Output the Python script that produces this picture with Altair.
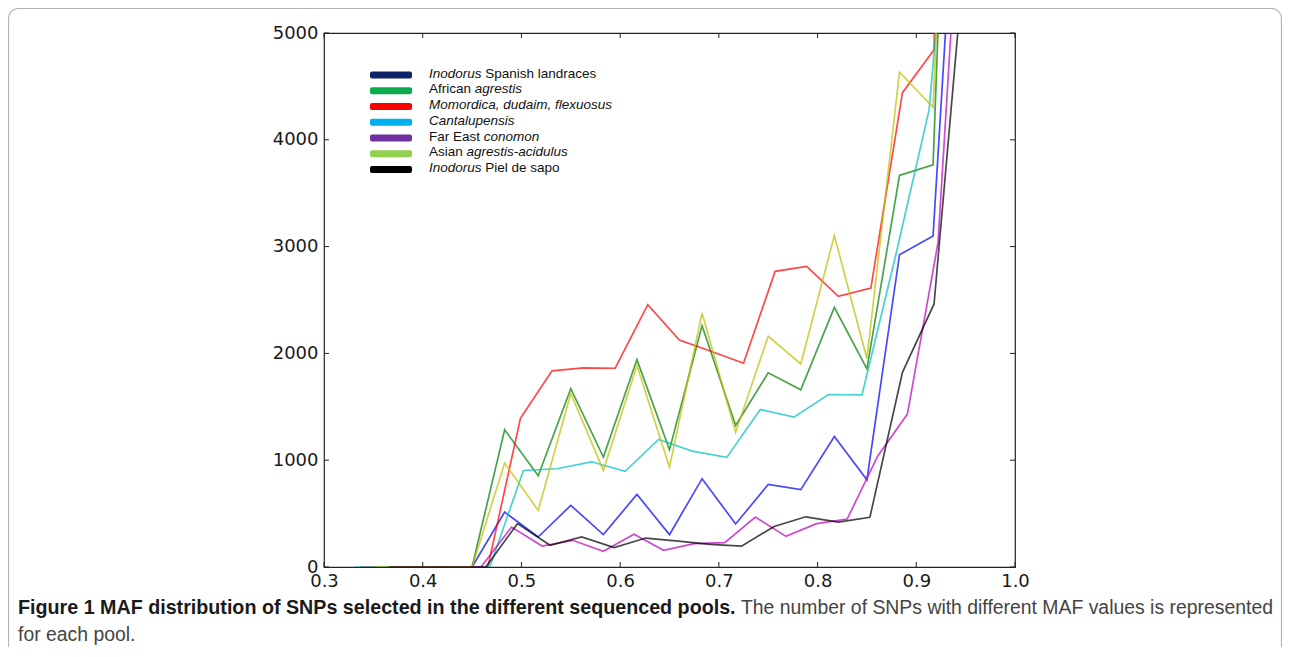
import altair as alt
import pandas as pd

# ---------------- data ----------------
X_TICKS = [0.3, 0.4, 0.5, 0.6, 0.7, 0.8, 0.9, 1.0]
Y_TICKS = [0, 1000, 2000, 3000, 4000, 5000]

# Inodorus Spanish landraces (blue)
BLUE_X = [0.350, 0.383, 0.417, 0.450, 0.483, 0.517, 0.550, 0.583, 0.617, 0.650,
          0.683, 0.717, 0.750, 0.783, 0.817, 0.850, 0.883, 0.917, 0.950]
BLUE_Y = [0, 0, 0, 0, 514, 281, 577, 303, 680, 303,
          827, 403, 773, 724, 1222, 817, 2924, 3099, 8100]

# African agrestis (green)
GREEN_X = BLUE_X
GREEN_Y = [0, 0, 0, 0, 1285, 855, 1670, 1030, 1942, 1098,
           2260, 1325, 1818, 1659, 2431, 1855, 3666, 3766, 12000]

# Momordica, dudaim, flexuosus (red)
RED_X = [0.337, 0.370, 0.402, 0.434, 0.466, 0.499, 0.531, 0.563, 0.595, 0.628,
         0.660, 0.692, 0.725, 0.757, 0.789, 0.821, 0.854, 0.886, 0.918, 0.950]
RED_Y = [0, 0, 0, 0, 0, 1393, 1837, 1865, 1861, 2456,
         2126, 2020, 1908, 2768, 2815, 2534, 2612, 4441, 4844, 25000]

# Cantalupensis (cyan)
CYAN_X = [0.331, 0.365, 0.399, 0.434, 0.468, 0.502, 0.536, 0.571, 0.605, 0.639,
          0.673, 0.708, 0.742, 0.776, 0.811, 0.845, 0.879, 0.913, 0.948]
CYAN_Y = [0, 0, 0, 0, 0, 904, 920, 985, 895, 1194,
          1085, 1026, 1475, 1403, 1615, 1612, 2912, 4280, 8000]

# Far East conomon (magenta)
MAGENTA_X = [0.367, 0.397, 0.428, 0.459, 0.490, 0.521, 0.552, 0.583, 0.614, 0.644,
             0.675, 0.706, 0.737, 0.768, 0.799, 0.830, 0.861, 0.891, 0.922, 0.953]
MAGENTA_Y = [0, 0, 0, 0, 374, 196, 250, 147, 306, 156,
             219, 228, 468, 287, 406, 449, 1040, 1432, 3036, 7700]

# Asian agrestis-acidulus (yellow)
YELLOW_X = BLUE_X
YELLOW_Y = [0, 0, 0, 0, 973, 530, 1625, 904, 1886, 935,
            2379, 1262, 2160, 1902, 3104, 1950, 4633, 4305, 11100]

# Inodorus Piel de sapo (black)
BLACK_X = [0.366, 0.399, 0.431, 0.464, 0.496, 0.529, 0.561, 0.594, 0.626, 0.659,
           0.691, 0.723, 0.756, 0.788, 0.821, 0.853, 0.886, 0.918, 0.951]
BLACK_Y = [0, 0, 0, 0, 406, 203, 281, 181, 271, 243,
           212, 195, 380, 470, 420, 465, 1823, 2463, 5950]

# draw order as in the original (matplotlib colour cycle)
SERIES = [
    ("Inodorus Spanish landraces", "#0000ff", BLUE_X, BLUE_Y),
    ("African agrestis", "#008000", GREEN_X, GREEN_Y),
    ("Momordica, dudaim, flexuosus", "#ff0000", RED_X, RED_Y),
    ("Cantalupensis", "#00bfbf", CYAN_X, CYAN_Y),
    ("Far East conomon", "#bf00bf", MAGENTA_X, MAGENTA_Y),
    ("Asian agrestis-acidulus", "#bfbf00", YELLOW_X, YELLOW_Y),
    ("Inodorus Piel de sapo", "#000000", BLACK_X, BLACK_Y),
]

# legend rows: (segments [(text, italic)], swatch colour)
LEGEND = [
    ([("Inodorus", True), ("Spanish landraces", False)], "#0c2366"),
    ([("African", False), ("agrestis", True)], "#0aab4c"),
    ([("Momordica, dudaim, flexuosus", True)], "#ff0000"),
    ([("Cantalupensis", True)], "#00b0f0"),
    ([("Far East", False), ("conomon", True)], "#7030a0"),
    ([("Asian", False), ("agrestis-acidulus", True)], "#92d050"),
    ([("Inodorus", True), ("Piel de sapo", False)], "#000000"),
]

CAPTION_BOLD = "Figure 1 MAF distribution of SNPs selected in the different sequenced pools."
CAPTION_REST = "The number of SNPs with different MAF values is represented"
CAPTION_LINE2 = "for each pool."

# ---------------- layout ----------------
W, H = 691, 534
PAD = {"left": 316, "top": 25, "right": 267, "bottom": 80}

# Arial / Liberation Sans advance widths (1/1000 em)
AW = {' ': 278, ',': 278, '-': 333, '.': 278, 'A': 667, 'C': 722, 'E': 667, 'F': 611,
      'I': 278, 'M': 833, 'P': 667, 'S': 667, 'a': 556, 'b': 556, 'c': 500, 'd': 556,
      'e': 556, 'f': 278, 'g': 556, 'h': 556, 'i': 222, 'j': 222, 'k': 500, 'l': 222,
      'm': 833, 'n': 556, 'o': 556, 'p': 556, 'q': 556, 'r': 333, 's': 500, 't': 278,
      'u': 556, 'v': 500, 'w': 722, 'x': 500, 'y': 500, 'z': 500}


def text_width(s, size):
    return sum(AW.get(c, 556) for c in s) * size / 1000.0


one = pd.DataFrame({"k": [0]})

xscale = alt.Scale(domain=[0.3, 1.0], nice=False, zero=False)
yscale = alt.Scale(domain=[0, 5000], nice=False, zero=False)

AX = alt.Axis(values=X_TICKS, format=".1f", title=None, ticks=False, domain=False,
              grid=False, labelFont="DejaVu Sans", labelFontSize=18, labelColor="#1a1a1a",
              labelPadding=5, labelFlush=False, labelOverlap=False)
AY = alt.Axis(values=Y_TICKS, format="d", title=None, ticks=False, domain=False,
              grid=False, labelFont="DejaVu Sans", labelFontSize=18, labelColor="#1a1a1a",
              labelPadding=6, labelFlush=False, labelOverlap=False)

layers = []

# outer figure frame
layers.append(
    alt.Chart(one).mark_rect(fillOpacity=0, stroke="#b4b4b4", strokeWidth=1.2,
                             cornerRadius=10).encode(
        x=alt.value(-315.5), x2=alt.value(957.5), y=alt.value(-24.5), y2=alt.value(700))
)

# data lines
for name, col, xv, yv in SERIES:
    df = pd.DataFrame({"maf": xv, "snps": yv, "idx": list(range(len(xv))), "pool": name})
    layers.append(
        alt.Chart(df).mark_line(clip=True, color=col, strokeWidth=1.7, opacity=0.72).encode(
            x=alt.X("maf:Q", scale=xscale, axis=AX),
            y=alt.Y("snps:Q", scale=yscale, axis=AY),
            order="idx:Q",
        )
    )

# inward ticks on all four sides
xt = pd.DataFrame({"v": X_TICKS})
yt = pd.DataFrame({"v": Y_TICKS})
TL = 5
for y0, y1 in [(H, H - TL), (0, TL)]:
    layers.append(alt.Chart(xt).mark_rule(color="#222", strokeWidth=1).encode(
        x=alt.X("v:Q", scale=xscale, axis=AX), y=alt.value(y0), y2=alt.value(y1)))
for x0, x1 in [(0, TL), (W, W - TL)]:
    layers.append(alt.Chart(yt).mark_rule(color="#222", strokeWidth=1).encode(
        y=alt.Y("v:Q", scale=yscale, axis=AY), x=alt.value(x0), x2=alt.value(x1)))

# custom legend (mixed italic / roman labels)
LEG_SW_X0, LEG_SW_X1 = 46, 88
LEG_TX = 105
LEG_Y0, LEG_DY = 42, 15.75
LEG_FS = 13.5
for i, (segs, col) in enumerate(LEGEND):
    cy = LEG_Y0 + i * LEG_DY
    layers.append(alt.Chart(one).mark_rect(color=col, cornerRadius=2).encode(
        x=alt.value(LEG_SW_X0), x2=alt.value(LEG_SW_X1),
        y=alt.value(cy - 3.5), y2=alt.value(cy + 3.5)))
    tx = LEG_TX
    for j, (txt, ital) in enumerate(segs):
        layers.append(alt.Chart(one).mark_text(
            align="left", baseline="alphabetic", font="Liberation Sans", fontSize=LEG_FS,
            fontStyle="italic" if ital else "normal", color="#111").encode(
            x=alt.value(tx), y=alt.value(cy + 2.5), text=alt.value(txt)))
        tx += text_width(txt + " ", LEG_FS)

# caption
layers.append(alt.Chart(one).mark_text(
    align="left", baseline="alphabetic", font="Liberation Sans", fontSize=19.7,
    fontWeight="bold", color="#1a1a1a").encode(
    x=alt.value(-306), y=alt.value(581), text=alt.value(CAPTION_BOLD)))
layers.append(alt.Chart(one).mark_text(
    align="right", baseline="alphabetic", font="Liberation Sans", fontSize=19.4,
    color="#444").encode(
    x=alt.value(949), y=alt.value(581), text=alt.value(CAPTION_REST)))
layers.append(alt.Chart(one).mark_text(
    align="left", baseline="alphabetic", font="Liberation Sans", fontSize=19.4,
    color="#444").encode(
    x=alt.value(-306), y=alt.value(608), text=alt.value(CAPTION_LINE2)))

chart = alt.layer(*layers).properties(
    width=W, height=H, padding=PAD,
    autosize=alt.AutoSizeParams(type="none"),
    background="white",
).configure_view(stroke="#222", strokeWidth=1.2)

chart.save("out.html", embed_options={"renderer": "svg", "actions": False})
